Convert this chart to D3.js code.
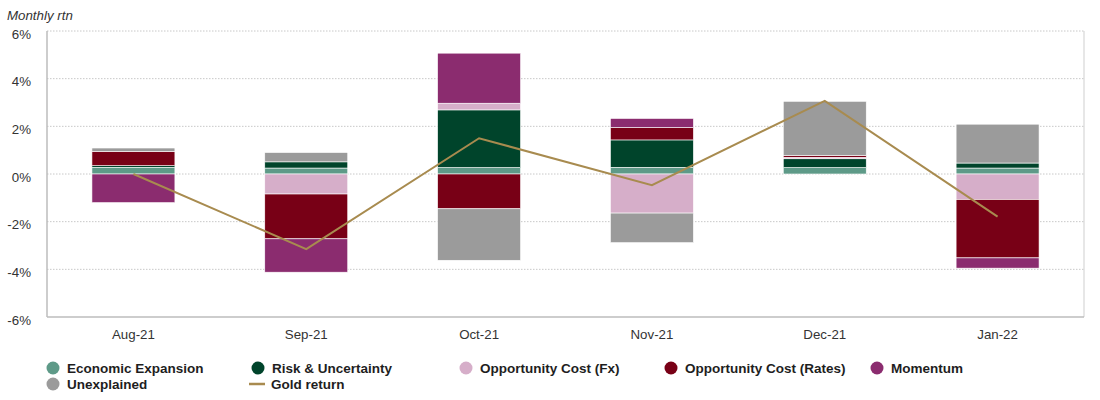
<!DOCTYPE html>
<html>
<head>
<meta charset="utf-8">
<script src="https://cdn.jsdelivr.net/npm/d3@7"></script>
<style>
  html, body { margin: 0; padding: 0; background: #fff; }
  svg { display: block; font-family: "Liberation Sans", Arial, sans-serif; }
</style>
</head>
<body>
<svg id="chart" width="1100" height="400"></svg>
<script>
// ---- Data ----
const categories = ["Aug-21", "Sep-21", "Oct-21", "Nov-21", "Dec-21", "Jan-22"];
const seriesNames = ["Economic Expansion", "Risk & Uncertainty", "Opportunity Cost (Fx)", "Opportunity Cost (Rates)", "Momentum", "Unexplained"];
const economicExpansion = [0.28, 0.25, 0.27, 0.28, 0.27, 0.25];
const riskUncertainty   = [0.07, 0.26, 2.42, 1.15, 0.37, 0.21];
const oppCostFx         = [0.00, -0.84, 0.28, -1.64, 0.06, -1.07];
const oppCostRates      = [0.60, -1.88, -1.46, 0.52, 0.08, -2.45];
const momentum          = [-1.20, -1.40, 2.10, 0.38, 0.00, -0.43];
const unexplained       = [0.14, 0.39, -2.16, -1.24, 2.27, 1.63];
const goldReturn        = [0.00, -3.15, 1.50, -0.47, 3.07, -1.79];
const yTicks = [-6, -4, -2, 0, 2, 4, 6];
const yTickLabels = ["-6%", "-4%", "-2%", "0%", "2%", "4%", "6%"];

(function () {
const seriesValues = [economicExpansion, riskUncertainty, oppCostFx, oppCostRates, momentum, unexplained];
const colors = ["#5e9a88", "#00442b", "#d6aec9", "#780016", "#8b2c6f", "#9b9b9b"];
const goldColor = "#a88b4f";

// ---- Layout ----
const svg = d3.select("#chart");
const plotLeft = 47, plotRight = 1084, plotTop = 31, plotBottom = 317;

const x = d3.scaleBand().domain(categories).range([plotLeft, plotRight]).paddingInner(0.52).paddingOuter(0.26);
const y = d3.scaleLinear().domain([-6, 6]).range([plotBottom, plotTop]);

const table = categories.map((c, i) => {
  const row = { cat: c };
  seriesNames.forEach((s, j) => row[s] = seriesValues[j][i]);
  return row;
});
const stacked = d3.stack().keys(seriesNames).offset(d3.stackOffsetDiverging)(table);

// gridlines
svg.append("g").selectAll("line").data(yTicks.filter(t => t !== -6)).join("line")
  .attr("x1", plotLeft).attr("x2", plotRight)
  .attr("y1", d => y(d)).attr("y2", d => y(d))
  .attr("stroke", "#c8c8c8").attr("stroke-width", 1)
  .attr("stroke-dasharray", "1.5,1.5");

// frame
svg.append("line").attr("x1", plotRight).attr("x2", plotRight).attr("y1", plotTop).attr("y2", plotBottom)
  .attr("stroke", "#cfcfcf").attr("stroke-width", 1);
svg.append("line").attr("x1", plotLeft).attr("x2", plotRight).attr("y1", plotBottom).attr("y2", plotBottom)
  .attr("stroke", "#bdbdbd").attr("stroke-width", 1.5);
svg.append("line").attr("x1", plotLeft).attr("x2", plotLeft).attr("y1", plotTop).attr("y2", plotBottom)
  .attr("stroke", "#bdbdbd").attr("stroke-width", 1.5);

// bars
svg.append("g").selectAll("g").data(stacked).join("g")
  .attr("fill", (d, i) => colors[i])
  .selectAll("rect").data(d => d.filter(p => Math.abs(p[1] - p[0]) > 1e-9)).join("rect")
  .attr("x", d => x(d.data.cat))
  .attr("width", x.bandwidth())
  .attr("y", d => y(Math.max(d[0], d[1])))
  .attr("height", d => Math.abs(y(d[0]) - y(d[1])))
  .attr("stroke", "#ffffff").attr("stroke-width", 0.6);

// gold line
const line = d3.line().x((d, i) => x(categories[i]) + x.bandwidth() / 2).y(d => y(d));
svg.append("path").datum(goldReturn).attr("d", line)
  .attr("fill", "none").attr("stroke", goldColor).attr("stroke-width", 2);

// y axis labels
const yAxis = d3.axisLeft(y).tickValues(yTicks).tickFormat(d => yTickLabels[yTicks.indexOf(d)]).tickSize(0).tickPadding(16);
const gy = svg.append("g").attr("transform", `translate(${plotLeft},0)`).call(yAxis);
gy.select(".domain").remove();
gy.selectAll("text").attr("font-size", 13.3).attr("fill", "#333").attr("dy", "0.55em")
  .attr("font-family", "'Liberation Sans', Arial, sans-serif");

// x axis labels
const xAxis = d3.axisBottom(x).tickSize(0).tickPadding(13);
const gx = svg.append("g").attr("transform", `translate(0,${plotBottom})`).call(xAxis);
gx.select(".domain").remove();
gx.selectAll("text").attr("font-size", 13.3).attr("fill", "#333")
  .attr("font-family", "'Liberation Sans', Arial, sans-serif");

// axis title
svg.append("text").attr("x", 7).attr("y", 20).attr("font-size", 13.3).attr("font-style", "italic")
  .attr("fill", "#333").text("Monthly rtn");

// legend
const legendItems = [
  { name: seriesNames[0], color: colors[0], type: "dot", x: 53, y: 368 },
  { name: seriesNames[1], color: colors[1], type: "dot", x: 258, y: 368 },
  { name: seriesNames[2], color: colors[2], type: "dot", x: 466, y: 368 },
  { name: seriesNames[3], color: colors[3], type: "dot", x: 671, y: 368 },
  { name: seriesNames[4], color: colors[4], type: "dot", x: 877, y: 368 },
  { name: seriesNames[5], color: colors[5], type: "dot", x: 53, y: 384 },
  { name: "Gold return", color: goldColor, type: "line", x: 257, y: 384 }
];
const lg = svg.append("g").selectAll("g").data(legendItems).join("g")
  .attr("transform", d => `translate(${d.x},${d.y})`);
lg.filter(d => d.type === "dot").append("circle").attr("r", 6.5).attr("fill", d => d.color);
lg.filter(d => d.type === "line").append("line").attr("x1", -8).attr("x2", 8)
  .attr("stroke", d => d.color).attr("stroke-width", 2.5);
lg.append("text").attr("x", 14).attr("dy", "0.35em").attr("font-size", 13.5).attr("font-weight", "bold")
  .attr("fill", "#1e1e1e").text(d => d.name);
})();
</script>
</body>
</html>
